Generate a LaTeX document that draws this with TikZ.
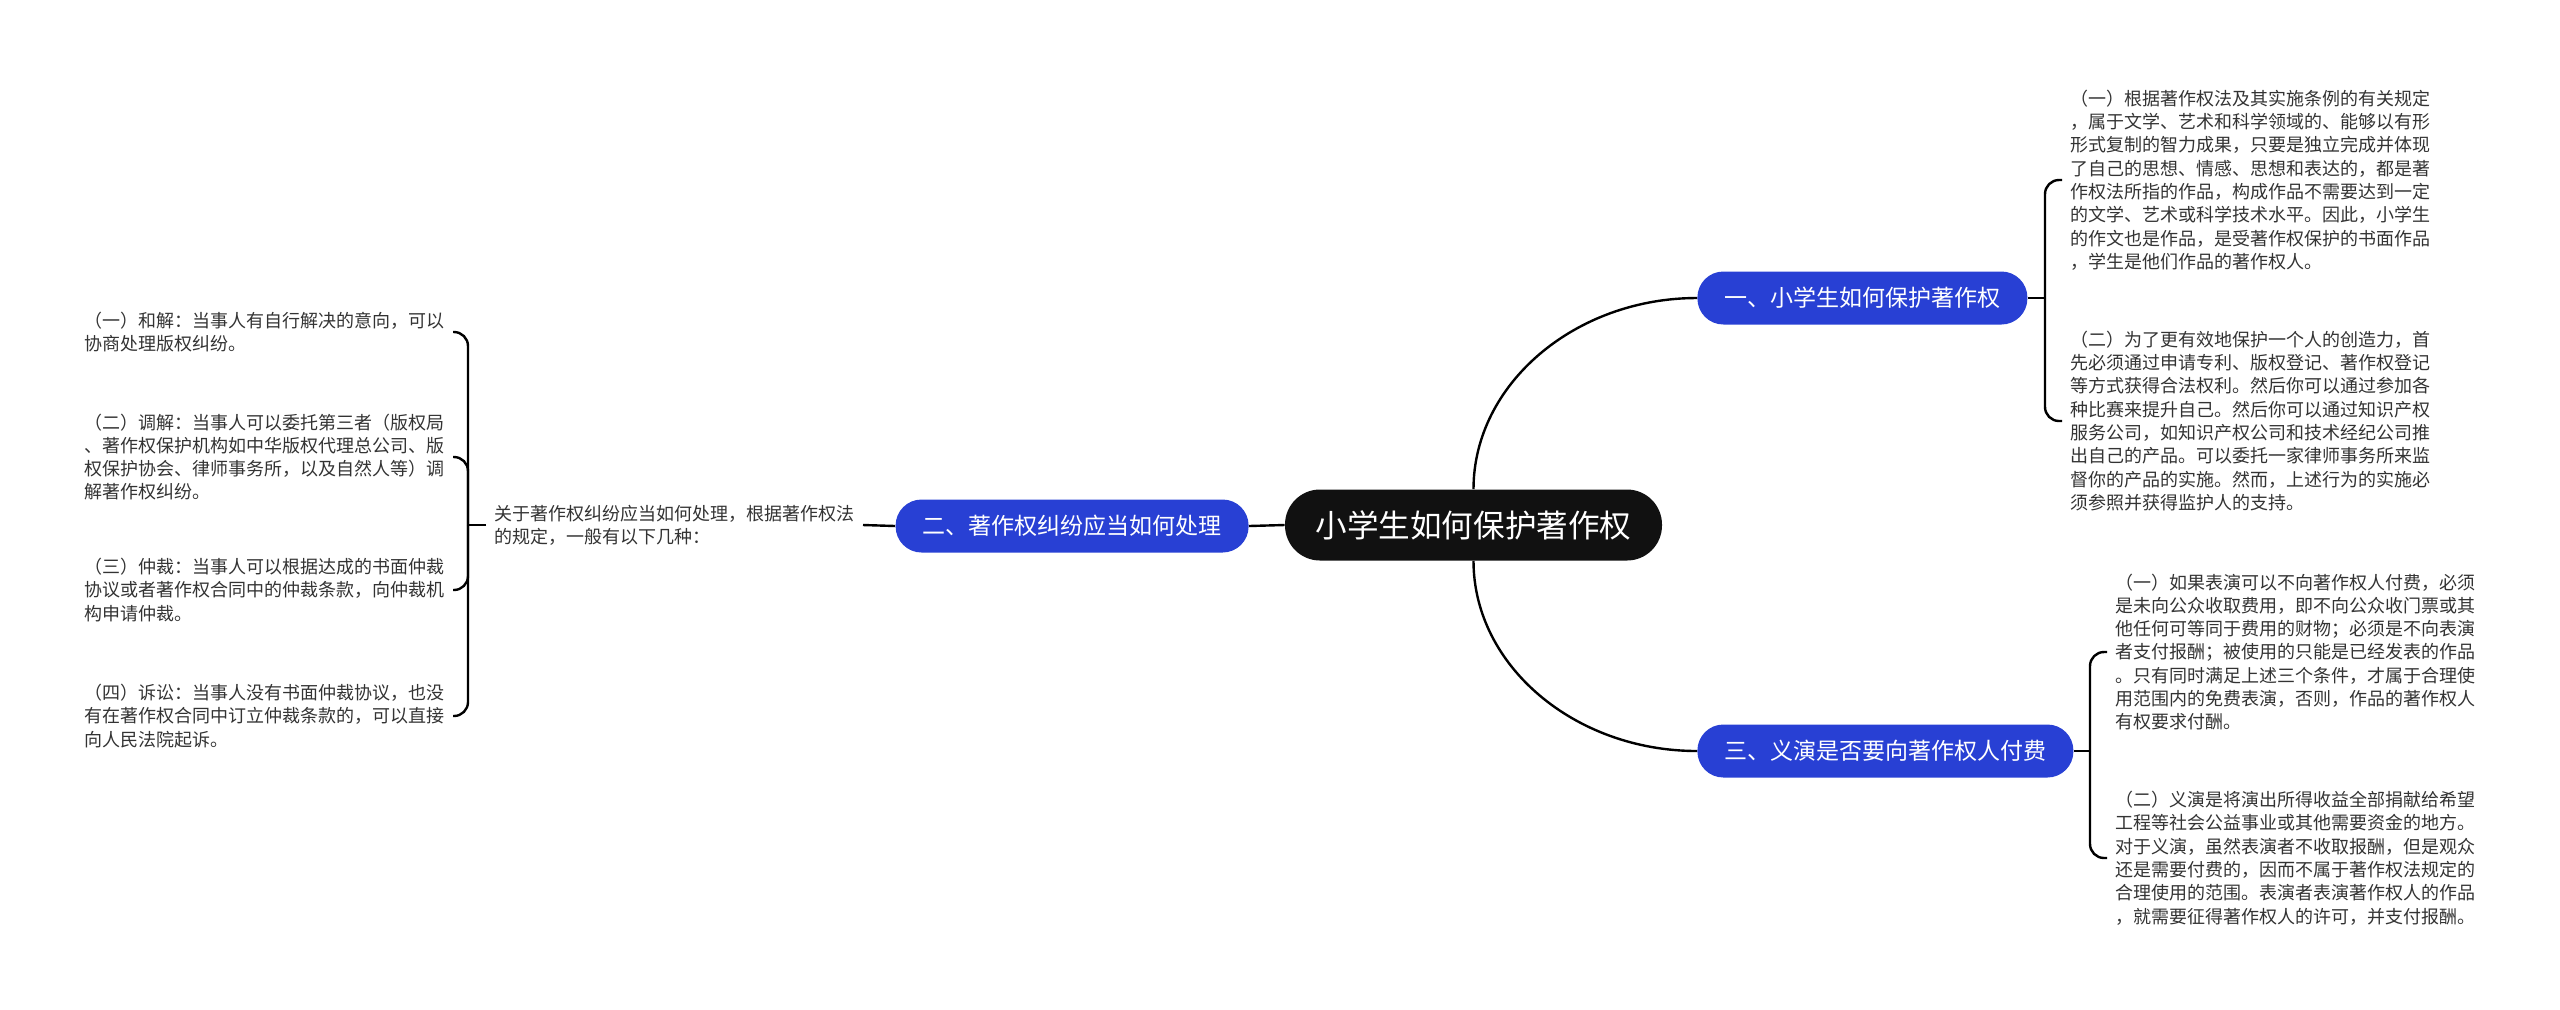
\documentclass[tikz,border=0pt]{standalone}
\usepackage{fontspec}
\setmainfont{Noto Sans CJK SC}
\usepackage{xcolor}
\usepackage{tikz}
\usetikzlibrary{positioning,calc}

\definecolor{rootblack}{RGB}{17,17,17}
\definecolor{branchblue}{RGB}{40,64,212}
\definecolor{leafgray}{RGB}{51,51,51}

\tikzset{
  rootbox/.style={fill=rootblack, text=white, rounded corners=17.5pt, minimum height=35.5pt,
    minimum width=188.5pt, inner xsep=0pt, font=\fontsize{15.8}{19}\selectfont},
  branchbox/.style={fill=branchblue, text=white, rounded corners=13pt, minimum height=26.5pt,
    inner xsep=13.5pt, font=\fontsize{11.5}{14}\selectfont},
  leaftext/.style={align=left, text=leafgray, inner xsep=4pt, inner ysep=2pt,
    font=\fontsize{9}{11.65}\selectfont},
  link/.style={draw=black, line width=1.2pt},
  bracket/.style={link, rounded corners=7pt},
}

\begin{document}
\begin{tikzpicture}[x=0.5pt, y=-0.5pt]
  \useasboundingbox (0,0) rectangle (2560,1009);

  % Root and main branches
  \node[rootbox] (root) at (1473.5,525) {小学生如何保护著作权};
  \node[branchbox, anchor=west] (protect) at (1697,298) {一、小学生如何保护著作权};
  \node[branchbox, anchor=east] (dispute) at (1249,526) {二、著作权纠纷应当如何处理};
  \node[branchbox, anchor=west] (charity) at (1697,751) {三、义演是否要向著作权人付费};

  \draw[link] (root.north) .. controls +(0,-105) and +(-122,0) .. (protect.west);
  \draw[link] (root.south) .. controls +(0,105) and +(-122,0) .. (charity.west);
  \draw[link] (root.west) -- (dispute.east);

  % Left side: ways to settle a dispute
  \node[leaftext, anchor=east] (intro) at (863,525) {关于著作权纠纷应当如何处理，根据著作权法\\的规定，一般有以下几种：};
  \coordinate (lfork) at (468,525);
  \draw[link] (dispute.west) -- (intro.east);
  \draw[link] (intro.west) -- (lfork);

  \node[leaftext, anchor=east] (settle) at (453,332) {（一）和解：当事人有自行解决的意向，可以\\协商处理版权纠纷。};
  \node[leaftext, anchor=east] (mediate) at (453,457) {（二）调解：当事人可以委托第三者（版权局\\、著作权保护机构如中华版权代理总公司、版\\权保护协会、律师事务所，以及自然人等）调\\解著作权纠纷。};
  \node[leaftext, anchor=east] (arbitrate) at (453,590) {（三）仲裁：当事人可以根据达成的书面仲裁\\协议或者著作权合同中的仲裁条款，向仲裁机\\构申请仲裁。};
  \node[leaftext, anchor=east] (sue) at (453,716) {（四）诉讼：当事人没有书面仲裁协议，也没\\有在著作权合同中订立仲裁条款的，可以直接\\向人民法院起诉。};

  \foreach \leaf in {settle, mediate, arbitrate, sue}
    \draw[bracket] (lfork) |- (\leaf.east);

  % Right side, upper branch
  \coordinate (rforkA) at (2045,298);
  \draw[link] (protect.east) -- (rforkA);
  \node[leaftext, anchor=west] (works) at (2062,180) {（一）根据著作权法及其实施条例的有关规定\\，属于文学、艺术和科学领域的、能够以有形\\形式复制的智力成果，只要是独立完成并体现\\了自己的思想、情感、思想和表达的，都是著\\作权法所指的作品，构成作品不需要达到一定\\的文学、艺术或科学技术水平。因此，小学生\\的作文也是作品，是受著作权保护的书面作品\\，学生是他们作品的著作权人。};
  \node[leaftext, anchor=west] (register) at (2062,421) {（二）为了更有效地保护一个人的创造力，首\\先必须通过申请专利、版权登记、著作权登记\\等方式获得合法权利。然后你可以通过参加各\\种比赛来提升自己。然后你可以通过知识产权\\服务公司，如知识产权公司和技术经纪公司推\\出自己的产品。可以委托一家律师事务所来监\\督你的产品的实施。然而，上述行为的实施必\\须参照并获得监护人的支持。};
  \draw[bracket] (rforkA) |- (works.west);
  \draw[bracket] (rforkA) |- (register.west);

  % Right side, lower branch
  \coordinate (rforkB) at (2090,751);
  \draw[link] (charity.east) -- (rforkB);
  \node[leaftext, anchor=west] (freeshow) at (2107,652) {（一）如果表演可以不向著作权人付费，必须\\是未向公众收取费用，即不向公众收门票或其\\他任何可等同于费用的财物；必须是不向表演\\者支付报酬；被使用的只能是已经发表的作品\\。只有同时满足上述三个条件，才属于合理使\\用范围内的免费表演，否则，作品的著作权人\\有权要求付酬。};
  \node[leaftext, anchor=west] (benefit) at (2107,858) {（二）义演是将演出所得收益全部捐献给希望\\工程等社会公益事业或其他需要资金的地方。\\对于义演，虽然表演者不收取报酬，但是观众\\还是需要付费的，因而不属于著作权法规定的\\合理使用的范围。表演者表演著作权人的作品\\，就需要征得著作权人的许可，并支付报酬。};
  \draw[bracket] (rforkB) |- (freeshow.west);
  \draw[bracket] (rforkB) |- (benefit.west);
\end{tikzpicture}
\end{document}
